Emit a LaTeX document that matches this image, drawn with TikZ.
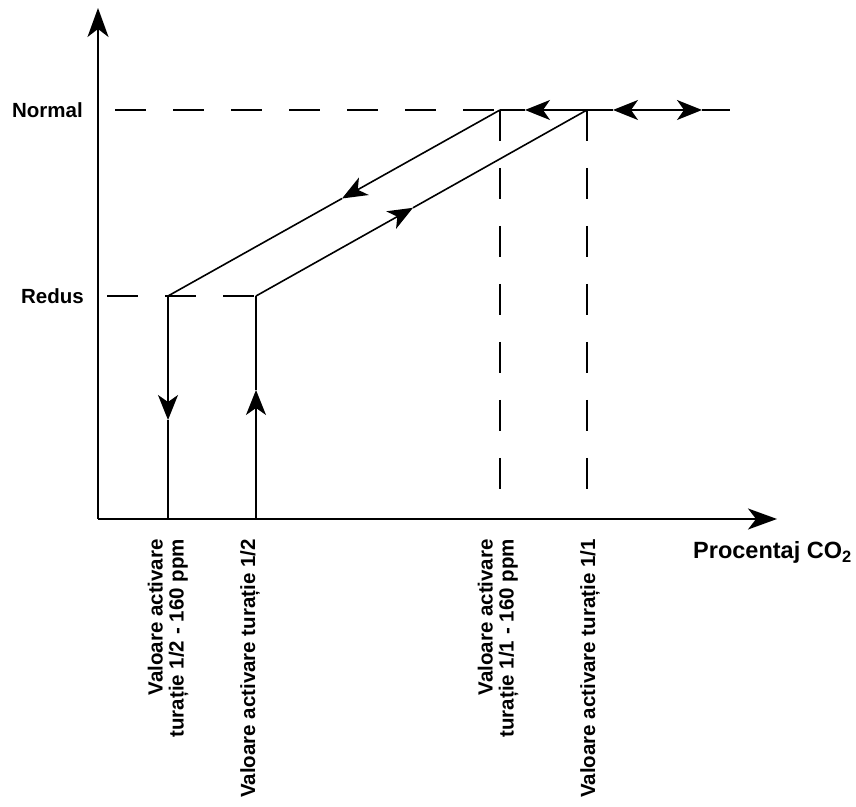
\documentclass[tikz,border=0pt]{standalone}
\usepackage{fontspec}
\setmainfont{Liberation Sans}
\usetikzlibrary{arrows.meta}
\begin{document}
\begin{tikzpicture}[x=1pt,y=1pt,
  solidline/.style={line width=1.6pt, draw=black},
  dashline/.style={line width=1.3pt, draw=black, dash pattern=on 31pt off 27pt},
  flowtip/.style={-{Stealth[length=25pt,width=20pt,inset=7pt]}},
  bothtips/.style={{Stealth[length=25pt,width=20pt,inset=7pt]}-{Stealth[length=25pt,width=20pt,inset=7pt]}},
  axisline/.style={line width=1.8pt, draw=black, -{Stealth[length=29pt,width=21pt,inset=8pt]}},
  lab/.style={font=\fontsize{20.5}{21}\selectfont\bfseries, inner sep=0pt},
  vlab/.style={lab, rotate=90, anchor=east, align=right}]
\useasboundingbox (0,0) rectangle (856,806);
% key points
\coordinate (O) at (98,287);
\coordinate (Ytop) at (98,798);
\coordinate (Xend) at (777,287);
\coordinate (A) at (168,510);
\coordinate (B) at (500,696);
\coordinate (C) at (256,510);
\coordinate (D) at (587,696);
\coordinate (E) at (730,696);
\coordinate (A0) at (168,287);
\coordinate (C0) at (256,287);
\coordinate (B0) at (500,312);
\coordinate (D0) at (587,312);
\coordinate (Nl) at (115,696);
\coordinate (Rl) at (107,510);
% arrow tip points
\coordinate (tA) at (168,386);
\coordinate (tC) at (256,416);
\coordinate (tAB) at (342,607.5);
\coordinate (tCD) at (413,598.2);
\coordinate (tBD) at (525,696);
\coordinate (tL) at (613,696);
\coordinate (tR) at (702,696);
% axes
\draw[axisline] (O) -- (Ytop);
\draw[axisline] (O) -- (Xend);
% dashed guides
\draw[dashline] (Nl) -- (B);
\draw[dashline] (Rl) -- (C);
\draw[dashline] (B) -- (B0);
\draw[dashline] (D) -- (D0);
% hysteresis loop
\draw[solidline, flowtip] (A) -- (tA);
\draw[solidline] (tA) -- (A0);
\draw[solidline, flowtip] (C0) -- (tC);
\draw[solidline] (tC) -- (C);
\draw[solidline, flowtip] (B) -- (tAB);
\draw[solidline] (tAB) -- (A);
\draw[solidline, flowtip] (C) -- (tCD);
\draw[solidline] (tCD) -- (D);
\draw[solidline, flowtip] (D) -- (tBD);
\draw[solidline] (tBD) -- (B);
\draw[solidline] (D) -- (tL);
\draw[solidline, bothtips] (tL) -- (tR);
\draw[solidline] (tR) -- (E);
% labels
\node[lab, anchor=east] (normal) at (83,696) {Normal};
\node[lab, anchor=east] (redus) at (84,510) {Redus};
\node[lab, font=\fontsize{23.5}{25}\selectfont\bfseries, anchor=base west] (proc) at (693,247) {Procentaj CO\textsubscript{2}};
\node[vlab] (l1) at (168,267) {Valoare activare\\turație 1/2 - 160 ppm};
\node[vlab] (l2) at (250,267) {Valoare activare turație 1/2};
\node[vlab] (l3) at (498,267) {Valoare activare\\turație 1/1 - 160 ppm};
\node[vlab] (l4) at (590,267) {Valoare activare turație 1/1};
\end{tikzpicture}
\end{document}
